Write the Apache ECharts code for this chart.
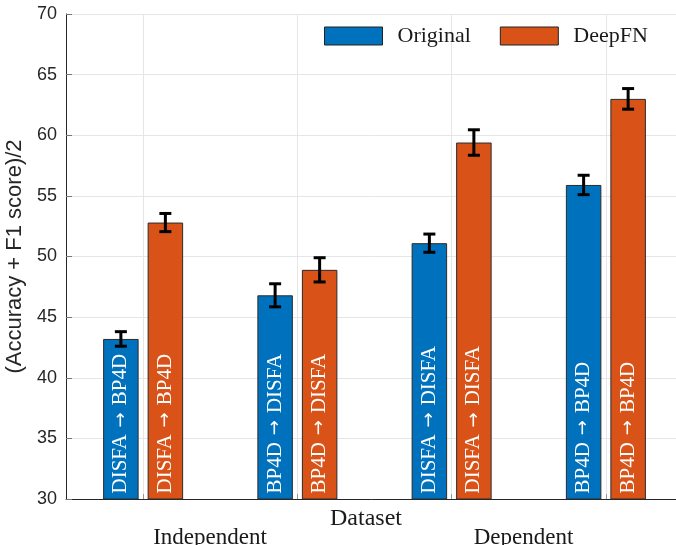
<!DOCTYPE html>
<html>
<head>
<meta charset="utf-8">
<title>Original vs DeepFN</title>
<script src="https://cdn.jsdelivr.net/npm/echarts@6/dist/echarts.min.js"></script>
<style>
  html, body { margin: 0; padding: 0; background: #ffffff; }
  #chart { width: 676px; height: 545px; }
</style>
</head>
<body>
<div id="chart"></div>
<script>
// Transfer settings (source, target), one per bar pair
const sources = ['DISFA', 'BP4D', 'DISFA', 'BP4D'];
const targets = ['BP4D', 'DISFA', 'DISFA', 'BP4D'];
const categories = sources.map((s, i) => s + ' → ' + targets[i]);

// Mean of (Accuracy + F1 score)/2 and its error half-width
const originalScores = [43.2, 46.8, 51.1, 55.9];
const originalErrors = [0.6, 0.95, 0.75, 0.8];
const deepfnScores = [52.8, 48.9, 59.4, 63.0];
const deepfnErrors = [0.75, 1.0, 1.05, 0.85];

const seriesNames = ['Original', 'DeepFN'];
const groupNames = ['Independent', 'Dependent'];
const yMin = 30, yMax = 70, yStep = 5;

const BLUE = '#0072BD';
const ORANGE = '#D95319';
const BAR_W = 35.5;
const BAR_GAP_PX = 9;
const SERIF = '"Liberation Serif", "Times New Roman", serif';
const SANS = '"Liberation Sans", Arial, sans-serif';

const chart = echarts.init(document.getElementById('chart'), null, { renderer: 'canvas' });

function errorBarSeries(name, scores, errors, side) {
  return {
    name: name + ' error',
    type: 'custom',
    z: 10,
    silent: true,
    data: scores.map((v, i) => [i, v, errors[i]]),
    renderItem: function (params, api) {
      const i = api.value(0);
      const mean = api.value(1);
      const err = api.value(2);
      const dx = side * (BAR_W + BAR_GAP_PX) / 2;
      const hi = api.coord([i, mean + err]);
      const lo = api.coord([i, mean - err]);
      const x = hi[0] + dx;
      const cap = 6;
      const style = { stroke: '#000', lineWidth: 3, fill: null };
      return {
        type: 'group',
        children: [
          { type: 'line', shape: { x1: x, y1: hi[1], x2: x, y2: lo[1] }, style },
          { type: 'line', shape: { x1: x - cap, y1: hi[1], x2: x + cap, y2: hi[1] }, style },
          { type: 'line', shape: { x1: x - cap, y1: lo[1], x2: x + cap, y2: lo[1] }, style }
        ]
      };
    }
  };
}

function barSeries(name, scores, color) {
  return {
    name: name,
    type: 'bar',
    data: scores,
    barWidth: BAR_W,
    barGap: (BAR_GAP_PX / BAR_W * 100).toFixed(1) + '%',
    itemStyle: { color: color, borderColor: '#2b2b2b', borderWidth: 1 },
    label: {
      show: true,
      position: 'insideBottom',
      rotate: 90,
      align: 'left',
      verticalAlign: 'middle',
      distance: 6,
      color: '#ffffff',
      fontFamily: SERIF,
      fontSize: 21,
      formatter: p => sources[p.dataIndex] + '{arr|→}' + targets[p.dataIndex],
      rich: {
        arr: {
          fontFamily: '"DejaVu Sans", sans-serif',
          fontSize: 18,
          color: '#ffffff',
          padding: [0, 7, 0, 7]
        }
      }
    }
  };
}

const option = {
  backgroundColor: '#ffffff',
  animation: false,
  grid: {
    left: 66, top: 14, bottom: 46, width: 617,
    containLabel: false,
    outerBoundsMode: 'none'
  },
  legend: {
    data: seriesNames,
    left: 324,
    top: 25,
    padding: 0,
    itemWidth: 58,
    itemHeight: 18,
    itemGap: 29,
    icon: 'rect',
    itemStyle: { borderColor: '#222', borderWidth: 1 },
    textStyle: {
      fontFamily: SERIF,
      fontSize: 22,
      color: '#1a1a1a',
      padding: [0, 0, 0, 10]
    }
  },
  xAxis: {
    type: 'category',
    data: categories,
    boundaryGap: true,
    axisLine: { show: true, lineStyle: { color: '#262626', width: 1 } },
    axisTick: { show: true, inside: true, alignWithLabel: true, length: 5, lineStyle: { color: '#999' } },
    axisLabel: { show: false },
    splitLine: { show: true, alignWithLabel: true, lineStyle: { color: '#e6e6e6', width: 1 } }
  },
  yAxis: {
    type: 'value',
    min: yMin,
    max: yMax,
    interval: yStep,
    name: '(Accuracy + F1 score)/2',
    nameLocation: 'middle',
    nameGap: 38,
    nameTextStyle: { fontFamily: SANS, fontSize: 22, color: '#262626' },
    axisLine: { show: true, lineStyle: { color: '#262626', width: 1 } },
    axisTick: { show: true, inside: true, length: 6, lineStyle: { color: '#777' } },
    axisLabel: { fontFamily: SANS, fontSize: 18, color: '#262626', margin: 9 },
    splitLine: { show: true, lineStyle: { color: '#e6e6e6', width: 1 } }
  },
  graphic: [
    {
      type: 'text', x: 366, y: 519,
      style: { text: 'Dataset', font: '24px ' + SERIF, fill: '#1a1a1a', align: 'center', verticalAlign: 'middle' }
    },
    {
      type: 'text', x: 210, y: 538,
      style: { text: groupNames[0], font: '23px ' + SERIF, fill: '#1a1a1a', align: 'center', verticalAlign: 'middle' }
    },
    {
      type: 'text', x: 523.5, y: 538,
      style: { text: groupNames[1], font: '23px ' + SERIF, fill: '#1a1a1a', align: 'center', verticalAlign: 'middle' }
    }
  ],
  series: [
    barSeries(seriesNames[0], originalScores, BLUE),
    barSeries(seriesNames[1], deepfnScores, ORANGE),
    errorBarSeries(seriesNames[0], originalScores, originalErrors, -1),
    errorBarSeries(seriesNames[1], deepfnScores, deepfnErrors, 1)
  ]
};

chart.setOption(option);
</script>
</body>
</html>
